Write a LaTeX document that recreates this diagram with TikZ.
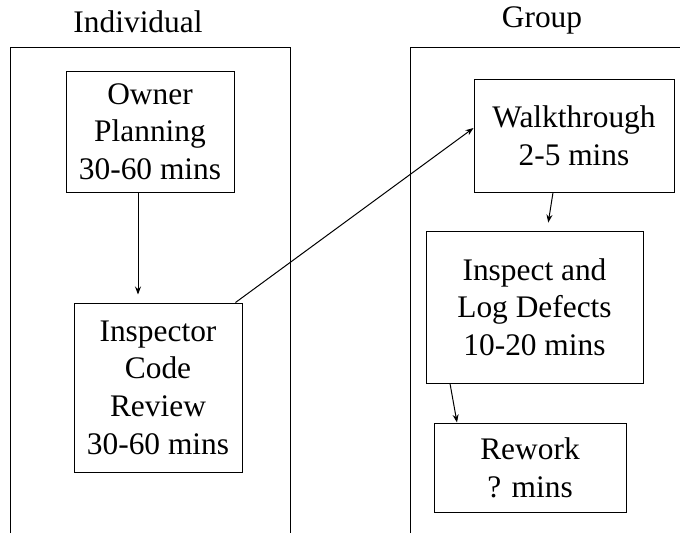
\documentclass[tikz,border=0pt]{standalone}
\usepackage{fontspec}
\setmainfont{Liberation Serif}
\usetikzlibrary{arrows.meta}
\begin{document}
\begin{tikzpicture}[x=1pt, y=-1pt, line width=1pt, >={Stealth[length=8pt,width=6pt]},
  every node/.style={font=\fontsize{31.4}{37.7}\selectfont, align=center, inner sep=0pt},
  stage/.style={draw, rectangle}]
\useasboundingbox (0,0) rectangle (680,533);
% panels
\draw (10,533) -- (10,47.7) -- (290,47.7) -- (290,533);
\draw (410,533) -- (410,47.7) -- (681,47.7);
\node (indiv) at (138,22) {Individual};
\node (group) at (542,20) {Group};
% stages
\node[stage, minimum width=168pt, minimum height=121pt] (owner) at (150,131.5) {Owner\\Planning\\30-60 mins};
\node[stage, minimum width=168pt, minimum height=169pt] (inspector) at (158,387.5) {Inspector\\Code\\Review\\30-60 mins};
\node[stage, minimum width=200pt, minimum height=113pt] (walk) at (574,135.5) {Walkthrough\\2-5 mins};
\node[stage, minimum width=217pt, minimum height=152pt] (inspect) at (534.5,307) {Inspect and\\Log Defects\\10-20 mins};
\node[stage, minimum width=192pt, minimum height=89pt] (rework) at (530,467.5) {Rework\\? mins};
% flow
\draw[->, shorten >=8pt] ([xshift=-12pt]owner.south) -- ([xshift=-20pt]inspector.north);
\draw[->] ([xshift=-7pt]inspector.north east) -- ([yshift=7.5pt]walk.west);
\draw[->, shorten >=8pt] ([xshift=-21pt]walk.south) -- ([xshift=12.5pt]inspect.north);
\draw[->] ([xshift=-84.5pt]inspect.south) -- ([xshift=-73pt]rework.north);
\end{tikzpicture}
\end{document}
